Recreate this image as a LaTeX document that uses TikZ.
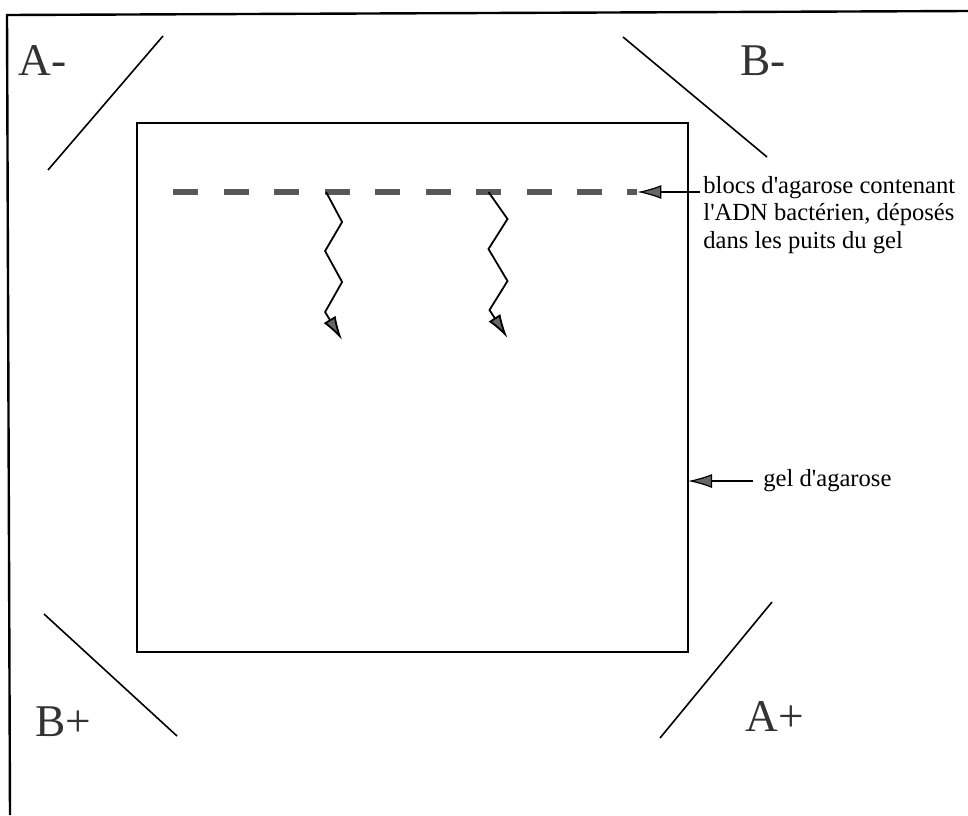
\documentclass[tikz,border=0pt]{standalone}
\usepackage{fontspec}
\setmainfont{Liberation Serif}
\usetikzlibrary{arrows.meta,positioning,calc}

\begin{document}
\begin{tikzpicture}[
  x=0.5pt, y=-0.5pt,
  pole/.style={font=\fontsize{22.7}{26}\selectfont, text=black!80, inner sep=0pt, anchor=base west},
  note/.style={font=\fontsize{12.3}{13.75}\selectfont, align=left, inner sep=0pt},
  well/.style={fill=black!65, inner sep=0pt, minimum width=12.5pt, minimum height=2.6pt},
  gelbox/.style={draw, line width=1pt, inner sep=0pt, outer sep=0pt, minimum width=275.5pt, minimum height=264.5pt},
  elec/.style={line width=0.8pt},
  arr/.style={-{Latex[length=12pt, width=7pt, fill=black!60]}, line width=0.9pt}
]
\useasboundingbox (0,0) rectangle (968,815);

% frame of the tank
\draw[line width=1.2pt] (10,815) -- (7,15) -- (968,11);

% electrodes
\draw[elec] (48,170) -- (163,36);
\draw[elec] (623,37) -- (767,157);
\draw[elec] (44,614) -- (177,736);
\draw[elec] (772,602) -- (660,738);
\node[pole] (am) at (18,75) {A-};
\node[pole] (bm) at (740,75) {B-};
\node[pole] (bp) at (35,736) {B+};
\node[pole] (ap) at (745,731) {A+};

% gel and wells
\node[gelbox] (gel) at (412.5,387.5) {};
\foreach \i in {0,...,8}
  \node[well] (w\i) at ({185.5+50.5*\i},192) {};
\node[well, minimum width=5pt] (w9) at (632,192) {};

% migration
\draw[arr] ($(w3.west)+(2,0)$) -- ++(16,30) -- ++(-17,29) -- ++(17,31) -- ++(-17,30) -- ++(17,28);
\draw[arr] (w6.center) -- ++(19,27) -- ++(-19,30) -- ++(19,32) -- ++(-18,29) -- ++(18,28);

% labels
\node[note, anchor=north west, inner xsep=1.5pt] (blocs) at (700,176)
  {blocs d\textquotesingle agarose contenant\\l\textquotesingle ADN bactérien, déposés\\dans les puits du gel};
\draw[arr, line width=0.6pt] (blocs.west |- w9) -- (w9.east);
\node[note, anchor=west, inner xsep=5pt, inner ysep=0pt] (geltxt) at (753,481) {gel d\textquotesingle agarose};
\draw[arr, line width=0.6pt] (geltxt.west) -- (geltxt.west -| gel.east);
\end{tikzpicture}
\end{document}
